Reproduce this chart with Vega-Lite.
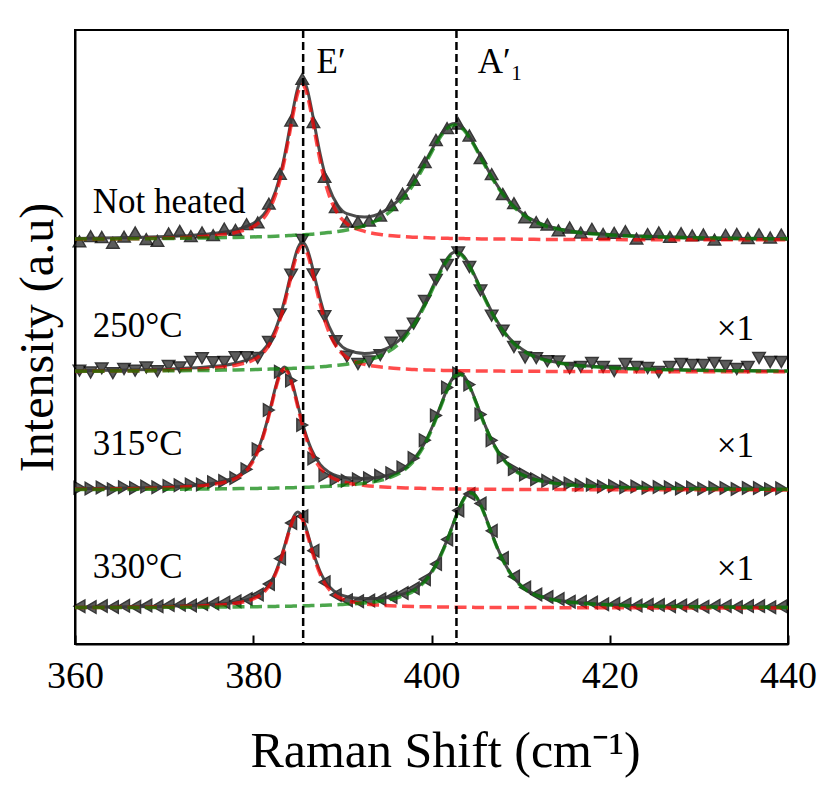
{
  "$schema": "https://vega.github.io/schema/vega-lite/v6.json",
  "width": 713,
  "height": 614,
  "autosize": "none",
  "padding": {"left": 75, "top": 30, "right": 49, "bottom": 155},
  "config": {
    "view": {"stroke": "black", "strokeWidth": 2},
    "font": "Liberation Serif",
    "axis": {
      "grid": false,
      "domainColor": "black",
      "domainWidth": 2,
      "tickColor": "black",
      "tickWidth": 2,
      "labelColor": "black",
      "titleColor": "black",
      "labelFont": "Liberation Serif",
      "titleFont": "Liberation Serif",
      "titleFontWeight": "normal"
    },
    "axisX": {"labelFont": "Liberation Serif", "labelFontSize": 38, "titleFontSize": 50, "tickSize": -9, "labelPadding": 22, "titlePadding": 31, "labelFlush": false, "labelOverlap": false},
    "axisY": {"labels": false, "ticks": false, "titleFontSize": 48, "titlePadding": 13}
  },
  "datasets": {
    "curves": [
      {"s":"nh","x":360,"r":404.7,"g":404.9,"t":405.6},
      {"s":"nh","x":366,"r":405.2,"g":405.2,"t":406.4},
      {"s":"nh","x":371,"r":406.1,"g":405.6,"t":407.7},
      {"s":"nh","x":375,"r":408.0,"g":406.1,"t":410.1},
      {"s":"nh","x":378,"r":411.5,"g":406.6,"t":414.1},
      {"s":"nh","x":380.5,"r":420.4,"g":407.2,"t":423.6},
      {"s":"nh","x":381.5,"r":429.9,"g":407.5,"t":433.4},
      {"s":"nh","x":382.5,"r":449.1,"g":407.8,"t":452.9},
      {"s":"nh","x":383,"r":464.2,"g":408.0,"t":468.2},
      {"s":"nh","x":383.5,"r":483.6,"g":408.2,"t":487.8},
      {"s":"nh","x":384,"r":506.8,"g":408.4,"t":511.2},
      {"s":"nh","x":384.5,"r":531.0,"g":408.7,"t":535.7},
      {"s":"nh","x":385,"r":551.1,"g":408.9,"t":556.0},
      {"s":"nh","x":385.5,"r":559.0,"g":409.2,"t":564.2},
      {"s":"nh","x":386,"r":551.1,"g":409.5,"t":556.6},
      {"s":"nh","x":386.5,"r":531.0,"g":409.8,"t":536.8},
      {"s":"nh","x":387,"r":506.8,"g":410.2,"t":513.0},
      {"s":"nh","x":387.5,"r":483.6,"g":410.6,"t":490.2},
      {"s":"nh","x":388,"r":464.2,"g":411.0,"t":471.2},
      {"s":"nh","x":388.5,"r":449.1,"g":411.5,"t":456.6},
      {"s":"nh","x":389.5,"r":429.9,"g":412.6,"t":438.5},
      {"s":"nh","x":390.5,"r":420.4,"g":414.0,"t":430.4},
      {"s":"nh","x":392.5,"r":412.6,"g":418.4,"t":427.0},
      {"s":"nh","x":394.6,"r":409.2,"g":427.2,"t":432.4},
      {"s":"nh","x":396.6,"r":407.6,"g":443.1,"t":446.7},
      {"s":"nh","x":397.6,"r":407.0,"g":454.7,"t":457.7},
      {"s":"nh","x":398.6,"r":406.6,"g":468.9,"t":471.5},
      {"s":"nh","x":399.6,"r":406.2,"g":485.1,"t":487.3},
      {"s":"nh","x":400.6,"r":406.0,"g":501.3,"t":503.3},
      {"s":"nh","x":401.1,"r":405.8,"g":508.4,"t":510.2},
      {"s":"nh","x":401.6,"r":405.7,"g":514.1,"t":515.8},
      {"s":"nh","x":402.1,"r":405.6,"g":517.7,"t":519.3},
      {"s":"nh","x":402.6,"r":405.5,"g":519.0,"t":520.5},
      {"s":"nh","x":403.1,"r":405.5,"g":517.7,"t":519.2},
      {"s":"nh","x":403.6,"r":405.4,"g":514.1,"t":515.5},
      {"s":"nh","x":404.1,"r":405.3,"g":508.4,"t":509.7},
      {"s":"nh","x":404.6,"r":405.2,"g":501.3,"t":502.5},
      {"s":"nh","x":405.6,"r":405.1,"g":485.1,"t":486.2},
      {"s":"nh","x":406.6,"r":405.0,"g":468.9,"t":469.9},
      {"s":"nh","x":407.6,"r":404.9,"g":454.7,"t":455.6},
      {"s":"nh","x":408.6,"r":404.9,"g":443.1,"t":444.0},
      {"s":"nh","x":410.6,"r":404.7,"g":427.2,"t":427.9},
      {"s":"nh","x":412.5,"r":404.6,"g":419.0,"t":419.6},
      {"s":"nh","x":415,"r":404.5,"g":413.5,"t":414.0},
      {"s":"nh","x":420,"r":404.4,"g":409.0,"t":409.4},
      {"s":"nh","x":428,"r":404.3,"g":406.5,"t":406.8},
      {"s":"nh","x":440,"r":404.2,"g":405.2,"t":405.3},

      {"s":"c250","x":360,"r":272.6,"g":272.7,"t":273.3},
      {"s":"c250","x":366,"r":273.1,"g":273.0,"t":274.1},
      {"s":"c250","x":371,"r":273.9,"g":273.3,"t":275.2},
      {"s":"c250","x":375,"r":275.6,"g":273.6,"t":277.2},
      {"s":"c250","x":378,"r":278.7,"g":274.1,"t":280.8},
      {"s":"c250","x":380.5,"r":286.6,"g":274.5,"t":289.1},
      {"s":"c250","x":381.5,"r":295.2,"g":274.8,"t":298.0},
      {"s":"c250","x":382.5,"r":311.7,"g":275.0,"t":314.7},
      {"s":"c250","x":383,"r":324.3,"g":275.2,"t":327.5},
      {"s":"c250","x":383.5,"r":340.0,"g":275.3,"t":343.3},
      {"s":"c250","x":384,"r":358.3,"g":275.5,"t":361.8},
      {"s":"c250","x":384.5,"r":377.1,"g":275.7,"t":380.8},
      {"s":"c250","x":385,"r":392.1,"g":275.9,"t":396.0},
      {"s":"c250","x":385.5,"r":398.0,"g":276.1,"t":402.1},
      {"s":"c250","x":386,"r":392.1,"g":276.4,"t":396.5},
      {"s":"c250","x":386.5,"r":377.1,"g":276.6,"t":381.7},
      {"s":"c250","x":387,"r":358.3,"g":276.9,"t":363.2},
      {"s":"c250","x":387.5,"r":340.0,"g":277.2,"t":345.2},
      {"s":"c250","x":388,"r":324.3,"g":277.5,"t":329.8},
      {"s":"c250","x":388.5,"r":311.7,"g":277.9,"t":317.6},
      {"s":"c250","x":389.5,"r":295.2,"g":278.7,"t":301.9},
      {"s":"c250","x":390.5,"r":286.6,"g":279.8,"t":294.4},
      {"s":"c250","x":392.5,"r":279.6,"g":283.0,"t":290.6},
      {"s":"c250","x":394.8,"r":276.5,"g":290.4,"t":294.9},
      {"s":"c250","x":396.8,"r":275.1,"g":304.4,"t":307.5},
      {"s":"c250","x":397.8,"r":274.6,"g":315.8,"t":318.4},
      {"s":"c250","x":398.8,"r":274.2,"g":330.7,"t":332.9},
      {"s":"c250","x":399.8,"r":274.0,"g":348.8,"t":350.8},
      {"s":"c250","x":400.8,"r":273.7,"g":368.2,"t":369.9},
      {"s":"c250","x":401.3,"r":273.6,"g":377.1,"t":378.7},
      {"s":"c250","x":401.8,"r":273.5,"g":384.4,"t":385.9},
      {"s":"c250","x":402.3,"r":273.4,"g":389.3,"t":390.7},
      {"s":"c250","x":402.8,"r":273.3,"g":391.0,"t":392.3},
      {"s":"c250","x":403.3,"r":273.3,"g":389.3,"t":390.6},
      {"s":"c250","x":403.8,"r":273.2,"g":384.4,"t":385.6},
      {"s":"c250","x":404.3,"r":273.2,"g":377.1,"t":378.3},
      {"s":"c250","x":404.8,"r":273.1,"g":368.2,"t":369.3},
      {"s":"c250","x":405.8,"r":273.0,"g":348.8,"t":349.8},
      {"s":"c250","x":406.8,"r":272.9,"g":330.7,"t":331.6},
      {"s":"c250","x":407.8,"r":272.9,"g":315.8,"t":316.7},
      {"s":"c250","x":408.8,"r":272.8,"g":304.4,"t":305.2},
      {"s":"c250","x":410.8,"r":272.7,"g":290.4,"t":291.1},
      {"s":"c250","x":412.8,"r":272.6,"g":283.7,"t":284.3},
      {"s":"c250","x":415,"r":272.5,"g":279.9,"t":280.4},
      {"s":"c250","x":420,"r":272.4,"g":276.2,"t":276.6},
      {"s":"c250","x":428,"r":272.2,"g":274.0,"t":274.2},
      {"s":"c250","x":440,"r":272.2,"g":272.9,"t":273.1},

      {"s":"c315","x":360,"r":154.7,"g":154.5,"t":155.2},
      {"s":"c315","x":366,"r":155.3,"g":154.6,"t":155.9},
      {"s":"c315","x":371,"r":156.4,"g":154.8,"t":157.2},
      {"s":"c315","x":375,"r":159.1,"g":155.0,"t":160.1},
      {"s":"c315","x":376.75,"r":161.8,"g":155.2,"t":163.0},
      {"s":"c315","x":378.5,"r":168.1,"g":155.4,"t":169.5},
      {"s":"c315","x":379.5,"r":176.3,"g":155.5,"t":177.8},
      {"s":"c315","x":380.5,"r":192.2,"g":155.6,"t":193.8},
      {"s":"c315","x":381,"r":204.2,"g":155.7,"t":205.9},
      {"s":"c315","x":381.5,"r":219.3,"g":155.8,"t":221.1},
      {"s":"c315","x":382,"r":236.9,"g":155.8,"t":238.7},
      {"s":"c315","x":382.5,"r":254.9,"g":155.9,"t":256.8},
      {"s":"c315","x":383,"r":269.3,"g":156.0,"t":271.3},
      {"s":"c315","x":383.5,"r":275.0,"g":156.1,"t":277.1},
      {"s":"c315","x":384,"r":269.3,"g":156.2,"t":271.5},
      {"s":"c315","x":384.5,"r":254.9,"g":156.3,"t":257.2},
      {"s":"c315","x":385,"r":236.9,"g":156.5,"t":239.4},
      {"s":"c315","x":385.5,"r":219.3,"g":156.6,"t":221.9},
      {"s":"c315","x":386,"r":204.2,"g":156.8,"t":207.0},
      {"s":"c315","x":386.5,"r":192.2,"g":156.9,"t":195.1},
      {"s":"c315","x":387.5,"r":176.3,"g":157.3,"t":179.6},
      {"s":"c315","x":388.5,"r":168.1,"g":157.7,"t":171.8},
      {"s":"c315","x":390.5,"r":161.3,"g":158.9,"t":166.2},
      {"s":"c315","x":392.5,"r":158.6,"g":160.8,"t":165.4},
      {"s":"c315","x":395.1,"r":156.8,"g":165.7,"t":168.5},
      {"s":"c315","x":397.1,"r":156.1,"g":175.0,"t":177.1},
      {"s":"c315","x":398.1,"r":155.8,"g":184.0,"t":185.8},
      {"s":"c315","x":399.1,"r":155.6,"g":197.4,"t":199.0},
      {"s":"c315","x":400.1,"r":155.4,"g":216.1,"t":217.5},
      {"s":"c315","x":401.1,"r":155.3,"g":239.0,"t":240.3},
      {"s":"c315","x":401.6,"r":155.2,"g":250.4,"t":251.6},
      {"s":"c315","x":402.1,"r":155.1,"g":260.5,"t":261.6},
      {"s":"c315","x":402.6,"r":155.1,"g":267.5,"t":268.6},
      {"s":"c315","x":403.1,"r":155.0,"g":270.0,"t":271.0},
      {"s":"c315","x":403.6,"r":155.0,"g":267.5,"t":268.5},
      {"s":"c315","x":404.1,"r":154.9,"g":260.5,"t":261.4},
      {"s":"c315","x":404.6,"r":154.9,"g":250.4,"t":251.3},
      {"s":"c315","x":405.1,"r":154.8,"g":239.0,"t":239.8},
      {"s":"c315","x":406.1,"r":154.8,"g":216.1,"t":216.9},
      {"s":"c315","x":407.1,"r":154.7,"g":197.4,"t":198.1},
      {"s":"c315","x":408.1,"r":154.6,"g":184.0,"t":184.6},
      {"s":"c315","x":409.1,"r":154.6,"g":175.0,"t":175.6},
      {"s":"c315","x":411.1,"r":154.5,"g":165.7,"t":166.2},
      {"s":"c315","x":413,"r":154.5,"g":161.7,"t":162.2},
      {"s":"c315","x":415,"r":154.4,"g":159.5,"t":159.9},
      {"s":"c315","x":420,"r":154.3,"g":156.8,"t":157.1},
      {"s":"c315","x":428,"r":154.2,"g":155.3,"t":155.5},
      {"s":"c315","x":440,"r":154.1,"g":154.6,"t":154.7},

      {"s":"c330","x":360,"r":36.4,"g":36.4,"t":36.8},
      {"s":"c330","x":366,"r":36.7,"g":36.5,"t":37.2},
      {"s":"c330","x":371,"r":37.3,"g":36.7,"t":38.0},
      {"s":"c330","x":375,"r":38.4,"g":36.9,"t":39.3},
      {"s":"c330","x":378,"r":40.7,"g":37.1,"t":41.8},
      {"s":"c330","x":380,"r":45.0,"g":37.3,"t":46.3},
      {"s":"c330","x":381,"r":50.2,"g":37.4,"t":51.6},
      {"s":"c330","x":382,"r":61.0,"g":37.5,"t":62.5},
      {"s":"c330","x":382.5,"r":69.9,"g":37.6,"t":71.5},
      {"s":"c330","x":383,"r":81.7,"g":37.7,"t":83.4},
      {"s":"c330","x":383.5,"r":96.0,"g":37.7,"t":97.7},
      {"s":"c330","x":384,"r":111.6,"g":37.8,"t":113.4},
      {"s":"c330","x":384.5,"r":124.7,"g":37.9,"t":126.6},
      {"s":"c330","x":385,"r":130.0,"g":38.0,"t":132.0},
      {"s":"c330","x":385.5,"r":124.7,"g":38.1,"t":126.8},
      {"s":"c330","x":386,"r":111.6,"g":38.2,"t":113.8},
      {"s":"c330","x":386.5,"r":96.0,"g":38.4,"t":98.4},
      {"s":"c330","x":387,"r":81.7,"g":38.5,"t":84.2},
      {"s":"c330","x":387.5,"r":69.9,"g":38.6,"t":72.5},
      {"s":"c330","x":388,"r":61.0,"g":38.8,"t":63.8},
      {"s":"c330","x":389,"r":50.2,"g":39.1,"t":53.3},
      {"s":"c330","x":390,"r":45.0,"g":39.6,"t":48.6},
      {"s":"c330","x":392,"r":40.7,"g":40.7,"t":45.4},
      {"s":"c330","x":394,"r":39.0,"g":42.6,"t":45.6},
      {"s":"c330","x":396.4,"r":37.9,"g":46.9,"t":48.8},
      {"s":"c330","x":398.4,"r":37.4,"g":55.5,"t":56.9},
      {"s":"c330","x":399.4,"r":37.3,"g":64.0,"t":65.3},
      {"s":"c330","x":400.4,"r":37.0,"g":77.1,"t":78.1},
      {"s":"c330","x":401.4,"r":37.0,"g":95.6,"t":96.6},
      {"s":"c330","x":402.4,"r":36.8,"g":118.7,"t":119.5},
      {"s":"c330","x":402.9,"r":36.8,"g":130.6,"t":131.4},
      {"s":"c330","x":403.4,"r":36.8,"g":141.0,"t":141.8},
      {"s":"c330","x":403.9,"r":36.7,"g":148.3,"t":149.0},
      {"s":"c330","x":404.4,"r":36.7,"g":151.0,"t":151.7},
      {"s":"c330","x":404.9,"r":36.6,"g":148.3,"t":148.9},
      {"s":"c330","x":405.4,"r":36.6,"g":141.0,"t":141.6},
      {"s":"c330","x":405.9,"r":36.6,"g":130.6,"t":131.2},
      {"s":"c330","x":406.4,"r":36.6,"g":118.7,"t":119.3},
      {"s":"c330","x":407.4,"r":36.5,"g":95.6,"t":96.1},
      {"s":"c330","x":408.4,"r":36.5,"g":77.1,"t":77.6},
      {"s":"c330","x":409.4,"r":36.5,"g":64.0,"t":64.5},
      {"s":"c330","x":410.4,"r":36.4,"g":55.5,"t":55.9},
      {"s":"c330","x":412.4,"r":36.4,"g":46.9,"t":47.3},
      {"s":"c330","x":416,"r":36.3,"g":41.4,"t":41.7},
      {"s":"c330","x":420,"r":36.2,"g":39.1,"t":39.3},
      {"s":"c330","x":428,"r":36.1,"g":37.4,"t":37.5},
      {"s":"c330","x":440,"r":36.1,"g":36.6,"t":36.7}
    ],
    "points": [
      {"s":"nh","x":360.5,"y":402.7},{"s":"nh","x":361.75,"y":407.8},{"s":"nh","x":363.0,"y":407.0},{"s":"nh","x":364.25,"y":401.2},
      {"s":"nh","x":365.5,"y":407.3},{"s":"nh","x":366.75,"y":411.6},{"s":"nh","x":368.0,"y":404.9},{"s":"nh","x":369.25,"y":403.2},
      {"s":"nh","x":370.5,"y":410.6},{"s":"nh","x":371.75,"y":413.1},{"s":"nh","x":373.0,"y":407.9},{"s":"nh","x":374.25,"y":411.6},
      {"s":"nh","x":375.5,"y":408.8},{"s":"nh","x":376.75,"y":415.4},{"s":"nh","x":378.0,"y":414.1},{"s":"nh","x":379.25,"y":419.8},
      {"s":"nh","x":380.5,"y":421.6},{"s":"nh","x":381.75,"y":440.3},{"s":"nh","x":383.0,"y":470.2},{"s":"nh","x":384.25,"y":523.5},
      {"s":"nh","x":385.5,"y":565.2},{"s":"nh","x":386.75,"y":521.9},{"s":"nh","x":388.0,"y":467.2},{"s":"nh","x":389.25,"y":437.0},
      {"s":"nh","x":390.5,"y":422.4},{"s":"nh","x":391.75,"y":422.3},{"s":"nh","x":393.0,"y":423.3},{"s":"nh","x":394.25,"y":428.5},
      {"s":"nh","x":395.5,"y":438.8},{"s":"nh","x":396.75,"y":450.3},{"s":"nh","x":398.0,"y":464.2},{"s":"nh","x":399.25,"y":481.8},
      {"s":"nh","x":400.5,"y":504.0},{"s":"nh","x":401.75,"y":515.9},{"s":"nh","x":403.0,"y":520.5},{"s":"nh","x":404.25,"y":508.5},
      {"s":"nh","x":405.5,"y":485.8},{"s":"nh","x":406.75,"y":469.8},{"s":"nh","x":408.0,"y":450.0},{"s":"nh","x":409.25,"y":440.8},
      {"s":"nh","x":410.5,"y":426.7},{"s":"nh","x":411.75,"y":421.9},{"s":"nh","x":413.0,"y":419.5},{"s":"nh","x":414.25,"y":413.7},
      {"s":"nh","x":415.5,"y":416.5},{"s":"nh","x":416.75,"y":411.4},{"s":"nh","x":418.0,"y":415.2},{"s":"nh","x":419.25,"y":410.1},
      {"s":"nh","x":420.5,"y":411.2},{"s":"nh","x":421.75,"y":412.8},{"s":"nh","x":423.0,"y":405.3},{"s":"nh","x":424.25,"y":409.9},
      {"s":"nh","x":425.5,"y":411.6},{"s":"nh","x":426.75,"y":407.1},{"s":"nh","x":428.0,"y":410.8},{"s":"nh","x":429.25,"y":408.6},
      {"s":"nh","x":430.5,"y":409.5},{"s":"nh","x":431.75,"y":404.3},{"s":"nh","x":433.0,"y":409.2},{"s":"nh","x":434.25,"y":410.0},
      {"s":"nh","x":435.5,"y":405.9},{"s":"nh","x":436.75,"y":409.7},{"s":"nh","x":438.0,"y":406.5},{"s":"nh","x":439.25,"y":409.4},

      {"s":"c250","x":360.5,"y":273.4},{"s":"c250","x":361.75,"y":271.5},{"s":"c250","x":363.0,"y":275.7},{"s":"c250","x":364.25,"y":270.8},
      {"s":"c250","x":365.5,"y":275.0},{"s":"c250","x":366.75,"y":273.3},{"s":"c250","x":368.0,"y":276.5},{"s":"c250","x":369.25,"y":272.8},
      {"s":"c250","x":370.5,"y":278.1},{"s":"c250","x":371.75,"y":276.6},{"s":"c250","x":373.0,"y":282.2},{"s":"c250","x":374.25,"y":285.8},
      {"s":"c250","x":375.5,"y":281.8},{"s":"c250","x":376.75,"y":282.0},{"s":"c250","x":378.0,"y":286.8},{"s":"c250","x":379.25,"y":286.9},
      {"s":"c250","x":380.5,"y":286.1},{"s":"c250","x":381.75,"y":302.2},{"s":"c250","x":383.0,"y":329.5},{"s":"c250","x":384.25,"y":369.3},
      {"s":"c250","x":385.5,"y":404.1},{"s":"c250","x":386.75,"y":369.5},{"s":"c250","x":388.0,"y":327.8},{"s":"c250","x":389.25,"y":302.8},
      {"s":"c250","x":390.5,"y":287.4},{"s":"c250","x":391.75,"y":280.0},{"s":"c250","x":393.0,"y":282.5},{"s":"c250","x":394.25,"y":288.9},
      {"s":"c250","x":395.5,"y":301.3},{"s":"c250","x":396.75,"y":308.0},{"s":"c250","x":398.0,"y":320.3},{"s":"c250","x":399.25,"y":343.0},
      {"s":"c250","x":400.5,"y":364.2},{"s":"c250","x":401.75,"y":379.2},{"s":"c250","x":403.0,"y":391.6},{"s":"c250","x":404.25,"y":377.0},
      {"s":"c250","x":405.5,"y":353.6},{"s":"c250","x":406.75,"y":328.3},{"s":"c250","x":408.0,"y":313.4},{"s":"c250","x":409.25,"y":297.0},
      {"s":"c250","x":410.5,"y":286.5},{"s":"c250","x":411.75,"y":285.9},{"s":"c250","x":413.0,"y":282.8},{"s":"c250","x":414.25,"y":282.6},
      {"s":"c250","x":415.5,"y":276.0},{"s":"c250","x":416.75,"y":277.2},{"s":"c250","x":418.0,"y":281.0},{"s":"c250","x":419.25,"y":277.0},
      {"s":"c250","x":420.5,"y":273.0},{"s":"c250","x":421.75,"y":280.0},{"s":"c250","x":423.0,"y":277.0},{"s":"c250","x":424.25,"y":276.0},
      {"s":"c250","x":425.5,"y":272.0},{"s":"c250","x":426.75,"y":277.0},{"s":"c250","x":428.0,"y":280.0},{"s":"c250","x":429.25,"y":279.0},
      {"s":"c250","x":430.5,"y":279.0},{"s":"c250","x":431.75,"y":281.0},{"s":"c250","x":433.0,"y":278.0},{"s":"c250","x":434.25,"y":275.0},
      {"s":"c250","x":435.5,"y":277.0},{"s":"c250","x":436.75,"y":286.0},{"s":"c250","x":438.0,"y":282.0},{"s":"c250","x":439.25,"y":282.0},

      {"s":"c315","x":360.5,"y":156.3},{"s":"c315","x":361.75,"y":155.4},{"s":"c315","x":363.0,"y":156.5},{"s":"c315","x":364.25,"y":154.7},
      {"s":"c315","x":365.5,"y":156.8},{"s":"c315","x":366.75,"y":156.1},{"s":"c315","x":368.0,"y":157.4},{"s":"c315","x":369.25,"y":156.7},
      {"s":"c315","x":370.5,"y":158.1},{"s":"c315","x":371.75,"y":158.7},{"s":"c315","x":373.0,"y":159.6},{"s":"c315","x":374.25,"y":159.6},
      {"s":"c315","x":375.5,"y":161.8},{"s":"c315","x":376.75,"y":163.0},{"s":"c315","x":378.0,"y":165.9},{"s":"c315","x":379.25,"y":174.7},
      {"s":"c315","x":380.5,"y":194.8},{"s":"c315","x":381.75,"y":233.9},{"s":"c315","x":383.0,"y":272.3},{"s":"c315","x":384.25,"y":263.4},
      {"s":"c315","x":385.5,"y":218.9},{"s":"c315","x":386.75,"y":185.5},{"s":"c315","x":388.0,"y":168.7},{"s":"c315","x":389.25,"y":164.7},
      {"s":"c315","x":390.5,"y":163.2},{"s":"c315","x":391.75,"y":164.7},{"s":"c315","x":393.0,"y":165.7},{"s":"c315","x":394.25,"y":168.2},
      {"s":"c315","x":395.5,"y":170.8},{"s":"c315","x":396.75,"y":176.6},{"s":"c315","x":398.0,"y":185.9},{"s":"c315","x":399.25,"y":203.8},
      {"s":"c315","x":400.5,"y":228.6},{"s":"c315","x":401.75,"y":256.6},{"s":"c315","x":403.0,"y":270.5},{"s":"c315","x":404.25,"y":259.4},
      {"s":"c315","x":405.5,"y":229.6},{"s":"c315","x":406.75,"y":203.7},{"s":"c315","x":408.0,"y":186.9},{"s":"c315","x":409.25,"y":174.9},
      {"s":"c315","x":410.5,"y":169.5},{"s":"c315","x":411.75,"y":164.8},{"s":"c315","x":413.0,"y":163.2},{"s":"c315","x":414.25,"y":160.9},
      {"s":"c315","x":415.5,"y":160.6},{"s":"c315","x":416.75,"y":158.9},{"s":"c315","x":418.0,"y":159.3},{"s":"c315","x":419.25,"y":157.5},
      {"s":"c315","x":420.5,"y":158.0},{"s":"c315","x":421.75,"y":156.7},{"s":"c315","x":423.0,"y":157.5},{"s":"c315","x":424.25,"y":156.2},
      {"s":"c315","x":425.5,"y":156.9},{"s":"c315","x":426.75,"y":156.7},{"s":"c315","x":428.0,"y":155.5},{"s":"c315","x":429.25,"y":156.4},
      {"s":"c315","x":430.5,"y":155.3},{"s":"c315","x":431.75,"y":156.2},{"s":"c315","x":433.0,"y":156.1},{"s":"c315","x":434.25,"y":155.0},
      {"s":"c315","x":435.5,"y":156.0},{"s":"c315","x":436.75,"y":155.9},{"s":"c315","x":438.0,"y":154.8},{"s":"c315","x":439.25,"y":155.7},

      {"s":"c330","x":360.5,"y":37.8},{"s":"c330","x":361.75,"y":36.9},{"s":"c330","x":363.0,"y":38.0},{"s":"c330","x":364.25,"y":37.1},
      {"s":"c330","x":365.5,"y":38.2},{"s":"c330","x":366.75,"y":37.3},{"s":"c330","x":368.0,"y":38.5},{"s":"c330","x":369.25,"y":37.7},
      {"s":"c330","x":370.5,"y":38.9},{"s":"c330","x":371.75,"y":39.2},{"s":"c330","x":373.0,"y":38.6},{"s":"c330","x":374.25,"y":40.0},
      {"s":"c330","x":375.5,"y":40.6},{"s":"c330","x":376.75,"y":41.6},{"s":"c330","x":378.0,"y":42.8},{"s":"c330","x":379.25,"y":45.1},
      {"s":"c330","x":380.5,"y":49.5},{"s":"c330","x":381.75,"y":60.0},{"s":"c330","x":383.0,"y":85.4},{"s":"c330","x":384.25,"y":121.0},
      {"s":"c330","x":385.5,"y":127.8},{"s":"c330","x":386.75,"y":93.3},{"s":"c330","x":388.0,"y":61.8},{"s":"c330","x":389.25,"y":49.1},
      {"s":"c330","x":390.5,"y":43.8},{"s":"c330","x":391.75,"y":42.8},{"s":"c330","x":393.0,"y":43.4},{"s":"c330","x":394.25,"y":44.8},
      {"s":"c330","x":395.5,"y":47.0},{"s":"c330","x":396.75,"y":50.9},{"s":"c330","x":398.0,"y":55.7},{"s":"c330","x":399.25,"y":64.8},
      {"s":"c330","x":400.5,"y":79.9},{"s":"c330","x":401.75,"y":104.6},{"s":"c330","x":403.0,"y":133.5},{"s":"c330","x":404.25,"y":150.0},
      {"s":"c330","x":405.5,"y":140.5},{"s":"c330","x":406.75,"y":113.2},{"s":"c330","x":408.0,"y":86.0},{"s":"c330","x":409.25,"y":67.5},
      {"s":"c330","x":410.5,"y":56.5},{"s":"c330","x":411.75,"y":49.5},{"s":"c330","x":413.0,"y":47.0},{"s":"c330","x":414.25,"y":44.9},
      {"s":"c330","x":415.5,"y":42.3},{"s":"c330","x":416.75,"y":42.2},{"s":"c330","x":418.0,"y":41.4},{"s":"c330","x":419.25,"y":39.7},
      {"s":"c330","x":420.5,"y":40.2},{"s":"c330","x":421.75,"y":39.8},{"s":"c330","x":423.0,"y":38.4},{"s":"c330","x":424.25,"y":39.2},
      {"s":"c330","x":425.5,"y":38.9},{"s":"c330","x":426.75,"y":37.7},{"s":"c330","x":428.0,"y":38.5},{"s":"c330","x":429.25,"y":38.4},
      {"s":"c330","x":430.5,"y":37.3},{"s":"c330","x":431.75,"y":38.2},{"s":"c330","x":433.0,"y":38.1},{"s":"c330","x":434.25,"y":37.0},
      {"s":"c330","x":435.5,"y":37.9},{"s":"c330","x":436.75,"y":37.9},{"s":"c330","x":438.0,"y":36.8},{"s":"c330","x":439.25,"y":37.7}
    ],
    "modes": [
      {"x": 385.6, "mode": "E′"},
      {"x": 402.8, "mode": "A′₁"}
    ],
    "labels": [
      {"x": 362.0, "y": 430.7, "text": "Not heated"},
      {"x": 362.0, "y": 307.3, "text": "250°C"},
      {"x": 362.0, "y": 189.0, "text": "315°C"},
      {"x": 362.0, "y": 65.7, "text": "330°C"},
      {"x": 432.0, "y": 304.0, "text": "×1"},
      {"x": 432.0, "y": 187.3, "text": "×1"},
      {"x": 432.0, "y": 64.0, "text": "×1"},
      {"x": 387.1, "y": 570.7, "text": "E′"},
      {"x": 405.2, "y": 570.7, "text": "A′₁"}
    ]
  },
  "encoding": {
    "x": {
      "field": "x",
      "type": "quantitative",
      "scale": {"domain": [360, 440], "nice": false, "zero": false},
      "title": "Raman Shift (cm⁻¹)",
      "axis": {"values": [360, 380, 400, 420, 440], "titleX": 370}
    }
  },
  "layer": [
    {
      "data": {"name": "points"},
      "mark": {"type": "point", "filled": true, "size": 155, "fill": "#2e2e2e", "stroke": "black", "strokeWidth": 1.5, "opacity": 0.78},
      "encoding": {
        "y": {"field": "y", "type": "quantitative", "scale": {"domain": [0, 614], "nice": false, "zero": false}, "title": "Intensity (a.u)"},
        "shape": {
          "field": "s",
          "type": "nominal",
          "scale": {"domain": ["nh", "c250", "c315", "c330"], "range": ["triangle-up", "triangle-down", "triangle-right", "triangle-left"]},
          "legend": null
        }
      }
    },
    {
      "data": {"name": "curves"},
      "mark": {"type": "line", "color": "#383838", "strokeWidth": 3, "opacity": 0.9, "interpolate": "monotone"},
      "encoding": {
        "y": {"field": "t", "type": "quantitative", "scale": {"domain": [0, 614], "nice": false, "zero": false}, "title": "Intensity (a.u)"},
        "detail": {"field": "s", "type": "nominal"}
      }
    },
    {
      "data": {"name": "curves"},
      "mark": {"type": "line", "color": "#ff0000", "strokeWidth": 3.5, "opacity": 0.7, "strokeDash": [12, 5.5], "interpolate": "monotone"},
      "encoding": {
        "y": {"field": "r", "type": "quantitative", "scale": {"domain": [0, 614], "nice": false, "zero": false}, "title": "Intensity (a.u)"},
        "detail": {"field": "s", "type": "nominal"}
      }
    },
    {
      "data": {"name": "curves"},
      "mark": {"type": "line", "color": "#008000", "strokeWidth": 3.5, "opacity": 0.7, "strokeDash": [12, 5.5], "interpolate": "monotone"},
      "encoding": {
        "y": {"field": "g", "type": "quantitative", "scale": {"domain": [0, 614], "nice": false, "zero": false}, "title": "Intensity (a.u)"},
        "detail": {"field": "s", "type": "nominal"}
      }
    },
    {
      "data": {"name": "modes"},
      "mark": {"type": "rule", "color": "black", "strokeWidth": 2.5, "strokeDash": [8, 4]},
      "encoding": {}
    },
    {
      "data": {"name": "labels"},
      "mark": {"type": "text", "align": "left", "baseline": "alphabetic", "fontSize": 35, "font": "Liberation Serif", "color": "black"},
      "encoding": {
        "y": {"field": "y", "type": "quantitative", "scale": {"domain": [0, 614], "nice": false, "zero": false}, "title": "Intensity (a.u)"},
        "text": {"field": "text", "type": "nominal"}
      }
    }
  ]
}
